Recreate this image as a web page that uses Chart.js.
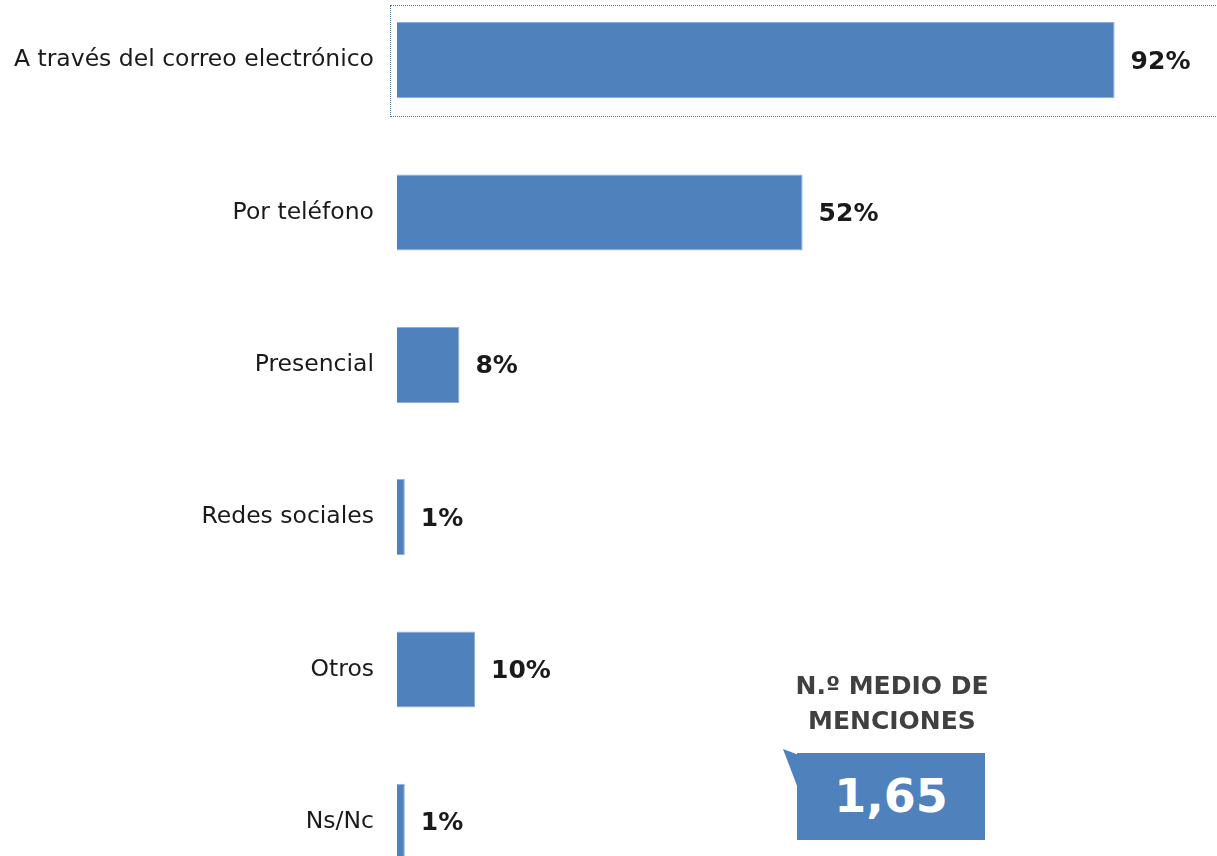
<!DOCTYPE html>
<html>
<head>
<meta charset="utf-8">
<script src="https://cdn.jsdelivr.net/npm/chart.js@4/dist/chart.umd.min.js"></script>
<style>
  html, body { margin: 0; padding: 0; background: #fff; overflow: hidden; }
  #wrap { position: relative; width: 1217px; height: 856px; overflow: hidden; }
  #canal { position: absolute; left: 0; top: -16px; }
  #sel { position: absolute; left: 390px; top: 5px; width: 900px; height: 112px;
         border: 1px dotted #4f74a8; box-sizing: border-box; }
  #titulo { position: absolute; left: 772px; top: 668px; width: 240px; text-align: center;
            font: bold 25px "DejaVu Sans", sans-serif; color: #404040; line-height: 35px; }
  #media { position: absolute; left: 797px; top: 753px; width: 188px; height: 87px;
           background: #4f81bd; color: #fff; text-align: center;
           font: bold 46px "DejaVu Sans", sans-serif; line-height: 87px; }
  #cola { position: absolute; left: 783px; top: 749px; width: 16px; height: 42px;
          background: #4f81bd; clip-path: polygon(0 0, 100% 14%, 100% 100%); }
</style>
</head>
<body>
<div id="wrap">
  <canvas id="canal" width="1217" height="914"></canvas>
  <div id="sel"></div>
  <div id="titulo">N.º MEDIO DE<br>MENCIONES</div>
  <div id="cola"></div>
  <div id="media">1,65</div>
</div>
<script>
var canales = ["A través del correo electrónico", "Por teléfono", "Presencial", "Redes sociales", "Otros", "Ns/Nc"];
var porcentajes = [92, 52, 8, 1, 10, 1];

// etiquetas de valor a la derecha de cada barra
var etiquetas = {
    id: 'etiquetas',
    afterDatasetsDraw: function(chart) {
        var ctx = chart.ctx;
        var meta = chart.getDatasetMeta(0);
        ctx.save();
        ctx.font = 'bold 25px "DejaVu Sans", sans-serif';
        ctx.fillStyle = '#1a1a1a';
        ctx.textAlign = 'left';
        ctx.textBaseline = 'middle';
        meta.data.forEach(function(bar, i) {
            ctx.fillText(porcentajes[i] + '%', bar.x + 16, bar.y + 2);
        });
        ctx.restore();
    }
};

var ctx = document.getElementById('canal');
var myChart = new Chart(ctx, {
    type: 'bar',
    data: {
        labels: canales,
        datasets: [{
            data: porcentajes,
            backgroundColor: '#4f81bd',
            borderColor: '#8eaedb',
            borderWidth: 1,
            categoryPercentage: 1,
            barPercentage: 0.5
        }]
    },
    options: {
        indexAxis: 'y',
        responsive: false,
        animation: false,
        layout: { padding: { left: 0, right: 40, top: 0, bottom: 0 } },
        plugins: {
            legend: { display: false },
            tooltip: { enabled: false }
        },
        scales: {
            x: { min: 0, max: 100, display: false },
            y: {
                grid: { display: false, drawTicks: false },
                border: { display: false },
                ticks: {
                    padding: 23,
                    color: '#1a1a1a',
                    font: { family: '"DejaVu Sans", sans-serif', size: 23.5 }
                },
                afterFit: function(scale) {
                    scale.width = 397;
                    // sin margen extra arriba/abajo para las etiquetas
                    scale.paddingTop = 0;
                    scale.paddingBottom = 0;
                }
            }
        }
    },
    plugins: [etiquetas]
});
</script>
</body>
</html>
